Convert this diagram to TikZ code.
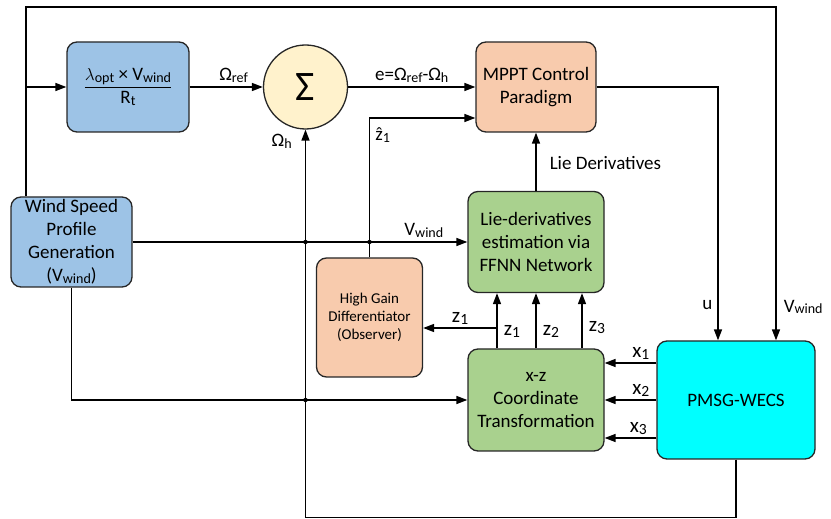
\documentclass[tikz,border=0pt]{standalone}
\usepackage{fontspec}
\usepackage{amsmath}
\setmainfont{Carlito}
\usetikzlibrary{arrows.meta}
\definecolor{boxblue}{HTML}{9DC3E6}
\definecolor{boxorange}{HTML}{F8CBAD}
\definecolor{boxgreen}{HTML}{A9D18E}
\definecolor{boxcyan}{HTML}{00FFFF}
\definecolor{sumyellow}{HTML}{FFF2CC}
\definecolor{edgegray}{HTML}{262626}
\newcommand{\sbs}[1]{\raisebox{-0.2ex}{\scalebox{0.74}{#1}}}
\newcommand{\txtbig}{\fontsize{19}{23}\selectfont}
\newcommand{\txtsmall}{\fontsize{15}{18}\selectfont}
\begin{document}
\begin{tikzpicture}[x=1pt,y=1pt,line width=1.5pt,
    >={Triangle[length=11pt,width=8pt]},
    blk/.style={draw=edgegray,line width=1.3pt,rounded corners=10pt,
      align=center,font=\txtbig,inner sep=2pt},
    lbl/.style={font=\txtbig,inner sep=1pt},
    lblxz/.style={font=\fontsize{21}{24}\selectfont,inner sep=1pt}]
  \useasboundingbox (0,0) rectangle (831,519);
  \node[blk,fill=boxblue,minimum width=122pt,minimum height=90pt] (lam) at (128,432)
    {$\displaystyle\frac{\text{$\lambda$\sbs{opt} × V\sbs{wind}}}{\text{R\sbs{t}}}$};
  \node[circle,draw=edgegray,line width=1.3pt,fill=sumyellow,minimum size=84pt,
    font=\fontsize{42}{42}\selectfont] (sum) at (305.5,432) {Σ};
  \node[blk,fill=boxorange,minimum width=120pt,minimum height=90pt] (mppt) at (536,432)
    {MPPT Control\\Paradigm};
  \node[blk,fill=boxblue,minimum width=121pt,minimum height=90pt] (wind) at (71.5,277)
    {Wind Speed\\Profile\\Generation\\(V\sbs{wind})};
  \node[blk,fill=boxorange,minimum width=106pt,minimum height=119pt,font=\txtsmall] (hgd) at (369.5,201.5)
    {High Gain\\Differentiator\\(Observer)};
  \node[blk,fill=boxgreen,minimum width=136pt,minimum height=101pt] (lie) at (536,277)
    {Lie-derivatives\\estimation via\\FFNN Network};
  \node[blk,fill=boxgreen,minimum width=136pt,minimum height=102pt] (xz) at (536,119)
    {x-z\\Coordinate\\Transformation};
  \node[blk,fill=boxcyan,minimum width=158pt,minimum height=118pt] (pmsg) at (736,119)
    {PMSG-WECS};
  \coordinate (tl) at (26,512);
  \coordinate (tr) at (776,512);
  \coordinate (bl) at (305.5,1.5);
  \coordinate (uc) at (718,432);
  \coordinate (zc) at (497,191);
  \begin{scope}[->]
    \draw (tl |- wind.north) -- (tl) -- (tr)
      -- node[lbl,pos=0.9,right=6pt]{V\sbs{wind}} (tr |- pmsg.north);
    \draw (tl |- lam) -- (lam.west);
    \draw (lam.east) -- node[lbl,above=3pt,pos=0.6]{Ω\sbs{ref}} (sum.west);
    \draw (sum.east) -- node[lbl,above=3pt]{e=Ω\sbs{ref}-Ω\sbs{h}} (mppt.west);
    \draw (hgd.north) |- node[lbl,pos=0.44,right=4pt]{ẑ\sbs{1}} ([yshift=-31pt]mppt.west);
    \draw (lie.north) -- node[lbl,pos=0.48,right=12pt]{Lie Derivatives} (mppt.south);
    \draw (wind.east) -- node[lbl,above=3pt,pos=0.87]{V\sbs{wind}} (lie.west);
    \draw (wind.south) |- (xz.west);
    \draw (pmsg.south) |- (bl) -- node[lbl,pos=0.97,left=12pt]{Ω\sbs{h}} (sum.south);
    \draw (mppt.east) -| node[lbl,pos=0.93,left=4pt]{u} (pmsg.north -| uc);
    \draw ([xshift=-39pt]xz.north) -- node[lblxz,pos=0.3,right=5pt]{z\sbs{1}} ([xshift=-39pt]lie.south);
    \draw (xz.north) -- node[lblxz,pos=0.3,right=5pt]{z\sbs{2}} (lie.south);
    \draw ([xshift=46pt]xz.north) -- node[lblxz,pos=0.38,right=5pt]{z\sbs{3}} ([xshift=46pt]lie.south);
    \draw (zc) -- node[lblxz,above=2pt]{z\sbs{1}} (zc -| hgd.east);
    \draw ([yshift=37pt]pmsg.west) -- node[lblxz,pos=0.3,above=2pt]{x\sbs{1}} ([yshift=37pt]pmsg.west -| xz.east);
    \draw (pmsg.west) -- node[lblxz,pos=0.3,above=2pt]{x\sbs{2}} (xz.east);
    \draw ([yshift=-38pt]pmsg.west) -- node[lblxz,pos=0.35,above=2pt]{x\sbs{3}} ([yshift=-38pt]pmsg.west -| xz.east);
  \end{scope}
  \fill (sum |- wind) circle (2.2pt);
  \fill (hgd |- wind) circle (2.2pt);
  \fill (sum |- xz) circle (2.2pt);
\end{tikzpicture}
\end{document}
